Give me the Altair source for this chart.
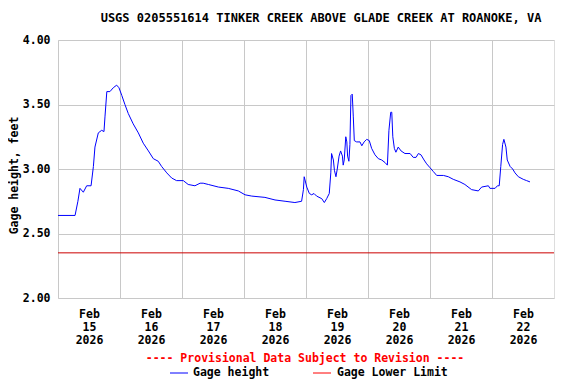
import altair as alt
import pandas as pd

TITLE = "USGS 0205551614 TINKER CREEK ABOVE GLADE CREEK AT ROANOKE, VA"

# hours since 2026-02-15 00:00 and gage height (feet)
hours = [0.0, 6.6, 7.7, 8.5, 9.8, 11.1, 12.8, 13.7, 14.3, 15.6, 16.9, 17.8, 18.2, 18.9,
         20.1, 21.4, 22.7, 23.6, 24.7, 25.9, 27.2, 29.1, 31.1, 33.0, 35.0, 36.9, 38.8,
         40.1, 42.1, 44.0, 45.9, 48.5, 50.4, 53.0, 55.0, 56.2, 58.2, 62.1, 65.9, 69.8,
         72.4, 75.0, 80.1, 84.0, 87.9, 91.7, 94.3, 95.0, 95.3, 96.3, 97.3, 98.2, 99.1,
         100.1, 102.1, 103.1, 104.0, 105.0, 105.6, 105.9, 106.6, 107.0, 107.6, 108.1,
         108.8, 109.4, 110.1, 110.4, 110.8, 111.4, 111.8, 112.1, 112.6, 113.0, 113.4,
         113.9, 114.3, 114.7, 115.6, 116.9, 117.6, 118.5, 119.5, 120.5, 121.4, 122.7,
         124.0, 125.3, 126.6, 127.5, 128.1, 128.8, 129.2, 129.6, 130.2, 130.8, 131.7,
         132.8, 134.3, 136.3, 137.5, 138.6, 139.5, 140.5, 141.7, 142.7, 144.0, 145.3,
         146.6, 149.2, 151.1, 153.0, 155.6, 157.5, 160.1, 162.7, 164.0, 166.6, 167.2,
         169.2, 170.1, 170.8, 171.4, 172.1, 172.6, 173.4, 173.9, 175.0, 176.0, 176.9,
         178.2, 180.1, 181.4, 182.7]
gage = [2.64, 2.64, 2.75, 2.85, 2.82, 2.87, 2.87, 3.02, 3.17, 3.28, 3.30, 3.29, 3.41, 3.60,
        3.60, 3.63, 3.65, 3.63, 3.57, 3.50, 3.43, 3.35, 3.28, 3.20, 3.14, 3.08, 3.06,
        3.02, 2.97, 2.93, 2.91, 2.91, 2.88, 2.87, 2.89, 2.89, 2.88, 2.86, 2.85, 2.83,
        2.80, 2.79, 2.78, 2.76, 2.75, 2.74, 2.75, 2.84, 2.94, 2.86, 2.81, 2.80, 2.81,
        2.79, 2.77, 2.74, 2.77, 2.81, 2.97, 3.12, 3.07, 2.99, 2.94, 3.00,
        3.10, 3.14, 3.10, 3.03, 3.07, 3.25, 3.21, 3.10, 3.06, 3.19, 3.57,
        3.58, 3.41, 3.22, 3.21, 3.21, 3.18, 3.21, 3.23, 3.22, 3.16, 3.11,
        3.08, 3.07, 3.05, 3.03, 3.30, 3.44, 3.44, 3.25, 3.16, 3.13, 3.17,
        3.14, 3.12, 3.12, 3.09, 3.09, 3.12, 3.11, 3.07, 3.04, 3.01, 2.98,
        2.95, 2.95, 2.94, 2.92, 2.90, 2.88, 2.84, 2.83, 2.86, 2.87, 2.85,
        2.85, 2.87, 2.87, 3.02, 3.19, 3.23, 3.17, 3.07, 3.02, 3.00, 2.97,
        2.94, 2.92, 2.91, 2.90]
lower_limit = [2.35]
y_ticks = [2.0, 2.5, 3.0, 3.5, 4.0]
x_days = [15, 16, 17, 18, 19, 20, 21, 22]

base = pd.Timestamp("2026-02-15 00:00")
df = pd.DataFrame({"time": base + pd.to_timedelta(hours, unit="h"), "gage": gage})
lim_df = pd.DataFrame({"limit": lower_limit})

FONT = "DejaVu Sans Mono"
W, H = 496, 258

xscale = alt.Scale(domain=[alt.DateTime(year=2026, month=2, date=15),
                           alt.DateTime(year=2026, month=2, date=23)])
yscale = alt.Scale(domain=[2.0, 4.0], nice=False)

xaxis = alt.Axis(
    title=None,
    values=[alt.DateTime(year=2026, month=2, date=d) for d in x_days],
    labelExpr="[timeFormat(datum.value, '%b'), timeFormat(datum.value, '%d'), timeFormat(datum.value, '%Y')]",
    labelOffset=31, labelFlush=False, labelOverlap=False, labelPadding=10,
    labelLineHeight=13, ticks=False, domain=False, grid=True,
    gridColor="#c8c8c8", labelFont=FONT, labelFontSize=11.5, labelFontWeight="bold",
    labelColor="black",
)
yaxis = alt.Axis(
    title="Gage height, feet", values=y_ticks, format=".2f", ticks=False, domain=False,
    grid=True, gridColor="#c8c8c8", labelFont=FONT, labelFontSize=11.5,
    labelFontWeight="bold", labelColor="black", labelPadding=8,
    titleFont=FONT, titleFontSize=11.5, titleFontWeight="bold", titleColor="black",
    titleX=-39, titleY=135, titleBaseline="bottom", titleAlign="center", titleAngle=270,
)

line = alt.Chart(df).mark_line(color="#0000ff", strokeWidth=1).encode(
    x=alt.X("time:T", scale=xscale, axis=xaxis),
    y=alt.Y("gage:Q", scale=yscale, axis=yaxis),
)

limit = alt.Chart(lim_df).mark_rule(color="#cc0000", strokeWidth=1).encode(
    y=alt.Y("limit:Q", scale=yscale),
)

notice = alt.Chart(lim_df).mark_text(
    text="---- Provisional Data Subject to Revision ----", color="#ff0000",
    font=FONT, fontSize=11.5, fontWeight="bold", align="center", baseline="middle",
).encode(x=alt.value(247), y=alt.value(319))

leg_blue = alt.Chart(lim_df).mark_rule(color="#0000ff", strokeWidth=1).encode(
    x=alt.value(112), x2=alt.value(130), y=alt.value(333))
leg_blue_t = alt.Chart(lim_df).mark_text(
    text="Gage height", color="black", font=FONT, fontSize=11.5, fontWeight="bold",
    align="left", baseline="middle").encode(x=alt.value(135), y=alt.value(333))
leg_red = alt.Chart(lim_df).mark_rule(color="#ff0000", strokeWidth=1).encode(
    x=alt.value(255), x2=alt.value(273), y=alt.value(333))
leg_red_t = alt.Chart(lim_df).mark_text(
    text="Gage Lower Limit", color="black", font=FONT, fontSize=11.5, fontWeight="bold",
    align="left", baseline="middle").encode(x=alt.value(279), y=alt.value(333))

chart = alt.layer(line, limit, notice, leg_blue, leg_blue_t, leg_red, leg_red_t).properties(
    width=W, height=H,
    title=alt.Title(TITLE, font=FONT, fontSize=12, fontWeight="bold", color="black",
                    anchor="middle", dx=15, offset=9),
    autosize=alt.AutoSizeParams(type="none"),
    padding={"left": 50, "top": 32, "right": 14, "bottom": 86},
).configure_view(stroke="black", strokeWidth=1.5).configure(background="white")

chart.save("out.html", embed_options={"renderer": "svg", "actions": False})
